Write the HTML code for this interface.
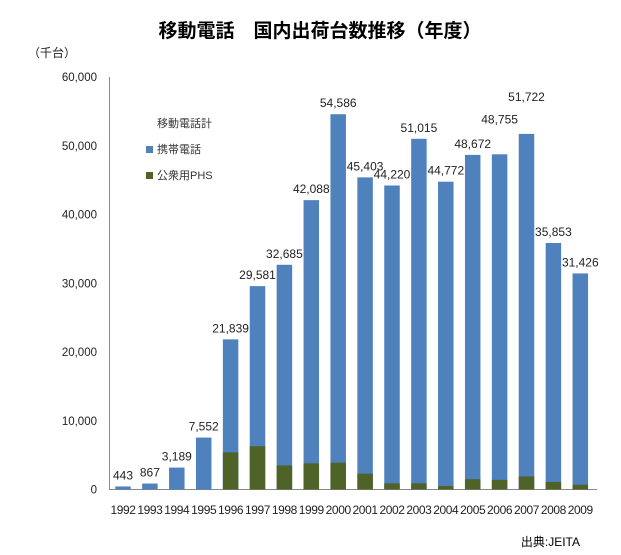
<!DOCTYPE html>
<html><head><meta charset="utf-8">
<style>
body{margin:0;background:#fff;}
svg{display:block;font-family:"Liberation Sans","Noto Sans CJK JP",sans-serif;}
</style></head>
<body>
<svg id="chart" width="621" height="555" viewBox="0 0 621 555">
<text x="320" y="37" text-anchor="middle" font-size="19" font-weight="bold" fill="#000">移動電話&#12288;国内出荷台数推移（年度）</text>
<text x="52" y="57" text-anchor="middle" font-size="12" fill="#222">（千台）</text>
<line x1="109.5" y1="77" x2="109.5" y2="490" stroke="#888"/>
<line x1="109" y1="489.5" x2="597" y2="489.5" stroke="#888"/>
<g id="yticks"></g>
<g id="bars"></g>
<g id="legend">
<text x="157" y="127" font-size="11" fill="#333">移動電話計</text>
<rect x="146" y="146" width="7" height="7" fill="#4f81bd"/>
<text x="157" y="153" font-size="11" fill="#333">携帯電話</text>
<rect x="146" y="172" width="7" height="7" fill="#4f6228"/>
<text x="157" y="179" font-size="11" fill="#333">公衆用PHS</text>
</g>
<text x="580" y="546" text-anchor="end" font-size="12" fill="#000">出典:JEITA</text>
</svg>
<script>
const years=["1992","1993","1994","1995","1996","1997","1998","1999","2000","2001","2002","2003","2004","2005","2006","2007","2008","2009"];
const totals=[443,867,3189,7552,21839,29581,32685,42088,54586,45403,44220,51015,44772,48672,48755,51722,35853,31426];
const phs=[0,0,0,0,5400,6300,3500,3800,3900,2300,900,900,500,1500,1400,1900,1100,700];
const yTicks=[0,10000,20000,30000,40000,50000,60000];
const NS="http://www.w3.org/2000/svg";
function yS(v){return 489.5-v*(412.5/60000);}
function xC(i){return 123+i*26.9;}
const bw=15.5;
function labelLift(yr){return yr==="2006"?24:(yr==="2007"?26:0);}
function fmt(v){return v.toLocaleString("en-US");}
const yt=document.getElementById("yticks");
yTicks.forEach(v=>{
 const t=document.createElementNS(NS,"text");
 
 
 t.setAttribute("x",97);t.setAttribute("y",yS(v)+4);t.setAttribute("text-anchor","end");
 t.setAttribute("font-size","11.5");t.setAttribute("fill","#222");t.textContent=fmt(v);yt.appendChild(t);
});
const g=document.getElementById("bars");
years.forEach((yr,i)=>{
 const x=xC(i)-bw/2;
 const b=document.createElementNS(NS,"rect");
 
 
 b.setAttribute("x",x);b.setAttribute("y",yS(totals[i]));b.setAttribute("width",bw);
 b.setAttribute("height",yS(0)-yS(totals[i]));b.setAttribute("fill","#4f81bd");g.appendChild(b);
 if(phs[i]>0){
  const p=document.createElementNS(NS,"rect");
  
  
  p.setAttribute("x",x);p.setAttribute("y",yS(phs[i]));p.setAttribute("width",bw);
  p.setAttribute("height",yS(0)-yS(phs[i]));p.setAttribute("fill","#4f6228");g.appendChild(p);
 }
 const l=document.createElementNS(NS,"text");
 
 
 l.setAttribute("x",xC(i));l.setAttribute("y",yS(totals[i])-7-labelLift(yr));l.setAttribute("text-anchor","middle");
 l.setAttribute("font-size","12");l.setAttribute("fill","#222");l.textContent=fmt(totals[i]);g.appendChild(l);
 const xl=document.createElementNS(NS,"text");
 
 
 xl.setAttribute("x",xC(i));xl.setAttribute("y",514);xl.setAttribute("text-anchor","middle");
 xl.setAttribute("font-size","12");xl.setAttribute("fill","#222");xl.setAttribute("letter-spacing","-0.4");
 xl.textContent=yr;g.appendChild(xl);
});
</script>
</body></html>
